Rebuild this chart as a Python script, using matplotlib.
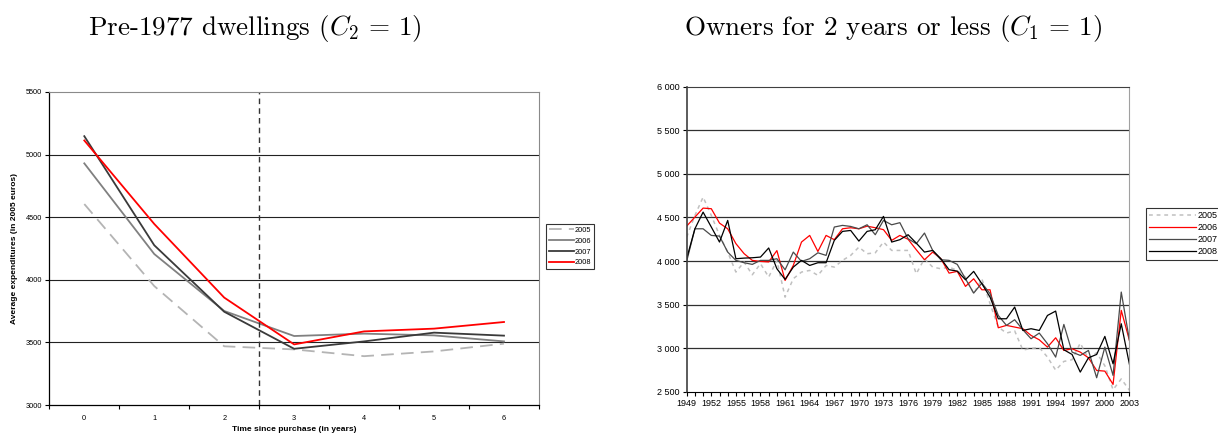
import matplotlib
matplotlib.use("Agg")
import matplotlib.pyplot as plt
from matplotlib.ticker import FuncFormatter, MultipleLocator

plt.rcParams['font.family'] = ['Liberation Sans', 'DejaVu Sans']
plt.rcParams['mathtext.fontset'] = 'cm'

# ---- left panel: pre-1977 dwellings, by survey year ----
time_since = [0, 1, 2, 3, 4, 5, 6]
pre77_2005 = [4605, 3950, 3469, 3444, 3390, 3428, 3490]
pre77_2006 = [4930, 4206, 3751, 3551, 3570, 3556, 3508]
pre77_2007 = [5147, 4276, 3745, 3449, 3508, 3578, 3554]
pre77_2008 = [5113, 4446, 3858, 3484, 3588, 3610, 3663]

# ---- right panel: owners for 2 years or less, by construction year ----
years = list(range(1949, 2004))
own_2005 = [4275, 4523, 4733, 4523, 4294, 4103, 3874, 3989, 3843, 3970,
            3817, 4008, 3587, 3798, 3874, 3893, 3836, 3950, 3931, 4008,
            4065, 4160, 4084, 4095, 4218, 4122, 4122, 4122, 3855, 4027,
            3931, 3912, 3931, 3893, 3817, 3626, 3797, 3511, 3244, 3175,
            3200, 2980, 3000, 3010, 2900, 2750, 2850, 2870, 3060, 2880,
            2950, 2800, 2526, 2650, 2520]
own_2006 = [4401, 4504, 4607, 4600, 4435, 4370, 4200, 4085, 4008, 3996,
            3990, 4120, 3778, 3950, 4218, 4294, 4110, 4294, 4245, 4370,
            4382, 4370, 4400, 4382, 4360, 4237, 4294, 4250, 4130, 4015,
            4103, 4027, 3862, 3882, 3710, 3797, 3671, 3671, 3236, 3263,
            3244, 3225, 3148, 3098, 3014, 3121, 2976, 2995, 2957, 2892,
            2747, 2739, 2587, 3435, 3091]
own_2007 = [4000, 4370, 4370, 4294, 4286, 4103, 4008, 3981, 3962, 4008,
            4008, 4027, 3900, 4103, 3996, 4027, 4095, 4065, 4390, 4409,
            4397, 4370, 4416, 4302, 4466, 4416, 4440, 4256, 4199, 4321,
            4122, 4015, 4008, 3962, 3797, 3633, 3748, 3626, 3377, 3263,
            3328, 3213, 3110, 3175, 3053, 2900, 3274, 2957, 2919, 2976,
            2663, 3014, 2690, 3645, 3091]
own_2008 = [4030, 4370, 4561, 4390, 4218, 4466, 4027, 4034, 4038, 4046,
            4150, 3912, 3790, 3931, 4008, 3950, 3981, 3981, 4237, 4340,
            4351, 4229, 4340, 4359, 4512, 4218, 4245, 4302, 4206, 4103,
            4122, 4027, 3901, 3885, 3786, 3882, 3740, 3587, 3339, 3339,
            3473, 3205, 3225, 3205, 3377, 3427, 2984, 2930, 2728, 2892,
            2930, 3137, 2823, 3282, 2816]

fig = plt.figure(figsize=(12.18, 4.37), dpi=100)

# titles (LaTeX look)
fig.text(0.209, 0.92, r"Pre-1977 dwellings ($C_2\,=\,1$)", ha='center', va='baseline',
         fontsize=19.5, family='cmr10')
fig.text(0.733, 0.92, r"Owners for 2 years or less ($C_1\,=\,1$)", ha='center', va='baseline',
         fontsize=19.5, family='cmr10')

# ---------- left ----------
ax1 = fig.add_axes([0.0405, 0.0732, 0.402, 0.7163])
ax1.plot(time_since, pre77_2005, color='#b4b4b4', lw=1.3, dashes=(7, 4), label='2005')
ax1.plot(time_since, pre77_2006, color='#808080', lw=1.3, label='2006')
ax1.plot(time_since, pre77_2007, color='#3a3a3a', lw=1.3, label='2007')
ax1.plot(time_since, pre77_2008, color='red', lw=1.3, label='2008')
ax1.axvline(2.5, color='#333333', lw=1.0, dashes=(4, 3))
ax1.set_xlim(-0.5, 6.5)
ax1.set_ylim(3000, 5500)
ax1.set_yticks(range(3000, 5501, 500))
for v in range(3500, 5001, 500):
    ax1.axhline(v, color='#222222', lw=0.8, zorder=0)
ax1.set_xticks([x - 0.5 for x in time_since] + [6.5])
ax1.set_xticklabels([])
ax1.set_xticks(time_since, minor=True)
ax1.set_xticklabels([str(t) for t in time_since], minor=True)
ax1.tick_params(axis='x', which='minor', length=0, labelsize=5.3, pad=7)
ax1.tick_params(axis='x', which='major', length=3, width=0.8, direction='out')
ax1.tick_params(axis='y', length=3, width=0.8, labelsize=5.3, pad=2)
ax1.set_xlabel('Time since purchase (in years)', fontsize=6, fontweight='bold', labelpad=3)
ax1.set_ylabel('Average expenditures (in 2005 euros)', fontsize=6, fontweight='bold', labelpad=6)
ax1.spines['top'].set_color('#8a8a8a')
ax1.spines['right'].set_color('#8a8a8a')
ax1.spines['left'].set_linewidth(0.9)
ax1.spines['bottom'].set_linewidth(0.9)
leg1 = fig.legend(*ax1.get_legend_handles_labels(), loc='upper left',
                  bbox_to_anchor=(0.448, 0.488), fontsize=5.3, handlelength=3.4,
                  handletextpad=0.1, borderpad=0.4, labelspacing=0.5,
                  fancybox=False, borderaxespad=0)
leg1.get_frame().set_edgecolor('black')
leg1.get_frame().set_linewidth(0.8)

# ---------- right ----------
ax2 = fig.add_axes([0.5638, 0.103, 0.3635, 0.699])
ax2.plot(years, own_2005, color='#c0c0c0', lw=1.1, dashes=(2.5, 2.5), label='2005')
ax2.plot(years, own_2006, color='red', lw=0.9, label='2006')
ax2.plot(years, own_2007, color='#4a4a4a', lw=0.9, label='2007')
ax2.plot(years, own_2008, color='black', lw=0.9, label='2008')
ax2.set_xlim(1949, 2003)
ax2.set_ylim(2500, 6000)
ax2.set_yticks(range(2500, 6001, 500))
for v in range(3000, 5501, 500):
    ax2.axhline(v, color='#303030', lw=0.9, zorder=0)
ax2.yaxis.set_major_formatter(FuncFormatter(lambda v, p: f"{int(v):,}".replace(",", " ")))
ax2.set_xticks(years[::3])
ax2.xaxis.set_minor_locator(MultipleLocator(1))
ax2.tick_params(axis='x', which='both', length=3, width=0.8, labelsize=6.5, pad=2)
ax2.tick_params(axis='y', length=3, width=0.8, labelsize=6.5, pad=2)
ax2.spines['top'].set_color('#404040')
ax2.spines['right'].set_color('#a0a0a0')
ax2.spines['left'].set_color('#404040')
ax2.spines['left'].set_linewidth(1.2)
leg2 = fig.legend(*ax2.get_legend_handles_labels(), loc='upper left',
                  bbox_to_anchor=(0.9406, 0.5247), fontsize=6.5, handlelength=5.2,
                  handletextpad=0.2, borderpad=0.35, labelspacing=0.35,
                  fancybox=False, borderaxespad=0)
leg2.get_frame().set_edgecolor('black')
leg2.get_frame().set_linewidth(0.8)

fig.savefig('out.png', dpi=100)
